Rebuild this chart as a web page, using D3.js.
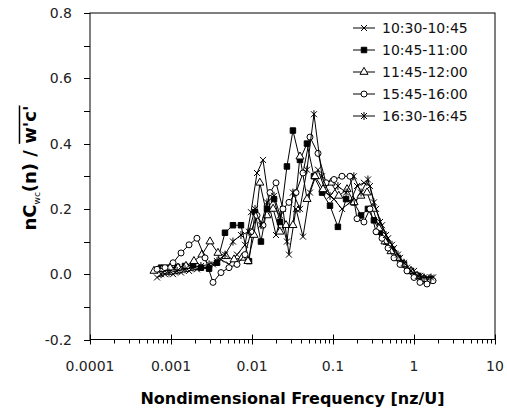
<!DOCTYPE html>
<html>
<head>
<meta charset="utf-8">
<script src="https://cdn.jsdelivr.net/npm/d3@7"></script>
<style>
  body { margin: 0; background: #fff; }
  text { font-family: "DejaVu Sans", sans-serif; }
</style>
</head>
<body>
<svg id="spectra"></svg>
<script>
// legend names, one per run
const seriesNames = ["10:30-10:45", "10:45-11:00", "11:45-12:00", "15:45-16:00", "16:30-16:45"];

// nondimensional frequency nz/U (three slightly different bin sets)
const freqA = [0.000672, 0.000843, 0.00106, 0.00133, 0.00167, 0.00209, 0.00263, 0.0033, 0.00414, 0.0052,
  0.00653, 0.0082, 0.00972, 0.01153, 0.01367, 0.01668, 0.0198, 0.0241, 0.0286, 0.0349,
  0.0426, 0.052, 0.0653, 0.082, 0.1029, 0.129, 0.162, 0.198, 0.241, 0.286,
  0.34, 0.403, 0.478, 0.566, 0.672, 0.82, 1.0, 1.186, 1.446, 1.716];
const freqB = [0.000753, 0.000944, 0.00119, 0.00149, 0.00187, 0.00234, 0.00295, 0.0037, 0.00464, 0.00582,
  0.00731, 0.00918, 0.0109, 0.0129, 0.0153, 0.0187, 0.0222, 0.027, 0.032, 0.0391,
  0.0477, 0.0582, 0.0732, 0.0918, 0.115, 0.145, 0.181, 0.222, 0.27, 0.32,
  0.381, 0.451, 0.535, 0.634, 0.753, 0.918, 1.12, 1.33, 1.62];
const freqC = [0.000617, 0.000774, 0.000973, 0.00122, 0.00153, 0.00192, 0.00241, 0.00303, 0.0038, 0.00477,
  0.006, 0.00753, 0.00892, 0.0106, 0.0125, 0.0153, 0.0182, 0.0221, 0.0263, 0.032,
  0.0391, 0.0478, 0.06, 0.0753, 0.0945, 0.118, 0.149, 0.182, 0.221, 0.263,
  0.312, 0.37, 0.439, 0.52, 0.617, 0.753, 0.918, 1.09, 1.33, 1.58];

// normalised cospectra nCwc(n) / w'c'
const cosp1030 = [-0.01, 0.0, 0.0, 0.005, 0.01, 0.015, 0.02, 0.03, 0.045, 0.03,
  0.06, 0.09, 0.19, 0.31, 0.35, 0.2, 0.12, 0.2, 0.06, 0.2,
  0.115, 0.25, 0.32, 0.25, 0.23, 0.2, 0.22, 0.27, 0.28, 0.27,
  0.2, 0.15, 0.11, 0.08, 0.05, 0.02, 0.01, -0.005, -0.01, -0.01];
const cosp1045 = [0.02, 0.02, 0.022, 0.025, 0.028, 0.02, 0.017, 0.035, 0.127, 0.15,
  0.15, 0.04, 0.19, 0.10, 0.2, 0.23, 0.16, 0.33, 0.44, 0.35,
  0.40, 0.30, 0.25, 0.21, 0.145, 0.23, 0.22, 0.18, 0.2, 0.165,
  0.13, 0.10, 0.075, 0.05, 0.03, 0.01, -0.005, -0.015, -0.015];
const cosp1145 = [0.01, 0.015, 0.02, 0.02, 0.025, 0.04, 0.06, 0.1, 0.065, 0.055,
  0.045, 0.05, 0.04, 0.12, 0.28, 0.18, 0.2, 0.13, 0.15, 0.15,
  0.36, 0.23, 0.30, 0.26, 0.28, 0.24, 0.26, 0.22, 0.24, 0.25,
  0.2, 0.14, 0.1, 0.07, 0.05, 0.03, 0.01, -0.005, -0.015, -0.02];
const cosp1545 = [0.015, 0.02, 0.035, 0.065, 0.09, 0.11, 0.05, -0.025, 0.005, 0.02,
  0.03, 0.06, 0.13, 0.18, 0.15, 0.25, 0.28, 0.2, 0.22, 0.25,
  0.31, 0.42, 0.37, 0.28, 0.29, 0.30, 0.30, 0.17, 0.16, 0.20,
  0.13, 0.11, 0.08, 0.05, 0.03, 0.01, -0.01, -0.025, -0.03, -0.02];
const cosp1630 = [0.0, 0.005, 0.01, 0.015, 0.02, 0.025, 0.03, 0.04, 0.06, 0.1,
  0.12, 0.13, 0.2, 0.15, 0.22, 0.24, 0.18, 0.10, 0.25, 0.2,
  0.32, 0.49, 0.3, 0.24, 0.27, 0.25, 0.3, 0.25, 0.29, 0.22,
  0.16, 0.12, 0.09, 0.06, 0.035, 0.01, -0.005, -0.01, -0.01];

const xTickValues = [0.0001, 0.001, 0.01, 0.1, 1, 10];
const xTickLabels = ["0.0001", "0.001", "0.01", "0.1", "1", "10"];
const yTickValues = [-0.2, 0, 0.2, 0.4, 0.6, 0.8];
const yTickLabels = ["-0.2", "0.0", "0.2", "0.4", "0.6", "0.8"];

var runs = [
  {name: seriesNames[0], f: freqA, v: cosp1030, mark: "x"},
  {name: seriesNames[1], f: freqB, v: cosp1045, mark: "square"},
  {name: seriesNames[2], f: freqC, v: cosp1145, mark: "triangle"},
  {name: seriesNames[3], f: freqA, v: cosp1545, mark: "circle"},
  {name: seriesNames[4], f: freqB, v: cosp1630, mark: "star"}
];

var size = {width: 507, height: 414};
var margin = {left: 90, right: 12, top: 13, bottom: 74};

var svg = d3.select("#spectra")
  .attr("width", size.width)
  .attr("height", size.height);

var x = d3.scaleLog()
  .domain([0.0001, 10])
  .range([margin.left, size.width - margin.right]);
var y = d3.scaleLinear()
  .domain([-0.2, 0.8])
  .range([size.height - margin.bottom - 0.5, margin.top]);

// marker shapes
var markPath = {
  x: "M-3,-3L3,3M-3,3L3,-3",
  star: "M-3,-3L3,3M-3,3L3,-3M0,-4L0,4",
  square: d3.symbol(d3.symbolSquare, 30)(),
  triangle: d3.symbol(d3.symbolTriangle, 28)()
};
function drawMark(g, mark) {
  if (mark === "circle") {
    g.append("circle").attr("r", 3).attr("fill", "#fff").attr("stroke", "#000");
  } else {
    g.append("path")
      .attr("d", markPath[mark])
      .attr("fill", mark === "square" ? "#000" : (mark === "triangle" ? "#fff" : "none"))
      .attr("stroke", "#000")
      .attr("stroke-width", 1);
  }
}

// frame
svg.append("rect")
  .attr("x", x.range()[0]).attr("y", y.range()[1])
  .attr("width", x.range()[1] - x.range()[0])
  .attr("height", y.range()[0] - y.range()[1])
  .attr("fill", "none").attr("stroke", "#000");

// x ticks: decades cross the axis, minor ones hang below
var xAxisY = y.range()[0];
var minorX = [];
xTickValues.slice(0, -1).forEach(d => {
  for (let k = 2; k < 10; k++) minorX.push(d * k);
});
svg.append("g").selectAll("line.minor")
  .data(minorX).enter().append("line")
  .attr("x1", d => Math.round(x(d)) + 0.5).attr("x2", d => Math.round(x(d)) + 0.5)
  .attr("y1", xAxisY).attr("y2", xAxisY + 4)
  .attr("stroke", "#000");
svg.append("g").selectAll("line.major")
  .data(xTickValues).enter().append("line")
  .attr("x1", d => Math.round(x(d)) + 0.5).attr("x2", d => Math.round(x(d)) + 0.5)
  .attr("y1", xAxisY - 5).attr("y2", xAxisY + 5)
  .attr("stroke", "#000");
svg.append("g").selectAll("text")
  .data(xTickValues).enter().append("text")
  .attr("x", d => x(d)).attr("y", xAxisY + 31)
  .attr("text-anchor", "middle")
  .attr("font-size", 14).attr("fill", "#222")
  .text((d, i) => xTickLabels[i]);

// y ticks every 0.1, labels every 0.2
var yMinor = d3.range(-2, 9).map(k => k / 10);
svg.append("g").selectAll("line")
  .data(yMinor).enter().append("line")
  .attr("x1", x.range()[0] - 6).attr("x2", x.range()[0])
  .attr("y1", d => Math.round(y(d)) + 0.5).attr("y2", d => Math.round(y(d)) + 0.5)
  .attr("stroke", "#000");
svg.append("g").selectAll("text")
  .data(yTickValues).enter().append("text")
  .attr("x", x.range()[0] - 18).attr("y", d => y(d) + 5)
  .attr("text-anchor", "end")
  .attr("font-size", 14).attr("fill", "#222")
  .text((d, i) => yTickLabels[i]);

// series
var line = d3.line().x(d => x(d[0])).y(d => y(d[1]));
runs.forEach(r => {
  var pts = r.f.map((f, i) => [f, r.v[i]]);
  svg.append("path")
    .attr("d", line(pts))
    .attr("fill", "none").attr("stroke", "#000").attr("stroke-width", 1);
  var g = svg.append("g");
  pts.forEach(p => {
    drawMark(g.append("g").attr("transform", `translate(${x(p[0])},${y(p[1])})`), r.mark);
  });
});

// legend
var legY = d3.scalePoint().domain(seriesNames).range([28, 116]);
var leg = svg.append("g");
runs.forEach(r => {
  var row = leg.append("g").attr("transform", `translate(0,${legY(r.name)})`);
  row.append("rect").attr("x", 350).attr("y", -8).attr("width", 125).attr("height", 16).attr("fill", "#fff");
  row.append("line").attr("x1", 353).attr("x2", 375).attr("stroke", "#000");
  drawMark(row.append("g").attr("transform", "translate(364,0)"), r.mark);
  row.append("text").attr("x", 382).attr("y", 5)
    .attr("font-size", 14).attr("fill", "#111").text(r.name);
});

// axis titles
svg.append("text")
  .attr("x", (x.range()[0] + x.range()[1]) / 2).attr("y", 404)
  .attr("text-anchor", "middle")
  .attr("font-size", 16).attr("font-weight", "bold")
  .text("Nondimensional Frequency [nz/U]");

var ytg = svg.append("g").attr("transform", "translate(36,168) rotate(-90)");
var yt = ytg.append("text")
  .attr("text-anchor", "middle")
  .attr("font-size", 18).attr("font-weight", "bold");
yt.append("tspan").text("nC");
yt.append("tspan").attr("font-size", 9).attr("font-weight", "normal").attr("dy", 4).text("wc");
yt.append("tspan").attr("dy", -4).text("(n) / ");
yt.append("tspan").text("w'c'");
// overline over the covariance w'c'
var ytNode = yt.node();
var nChars = ytNode.getNumberOfChars();
var first = ytNode.getExtentOfChar(nChars - 4);
var last = ytNode.getExtentOfChar(nChars - 1);
ytg.append("line")
  .attr("x1", first.x).attr("x2", last.x + last.width)
  .attr("y1", first.y + 0.5).attr("y2", first.y + 0.5)
  .attr("stroke", "#000").attr("stroke-width", 1.5);
</script>
</body>
</html>
